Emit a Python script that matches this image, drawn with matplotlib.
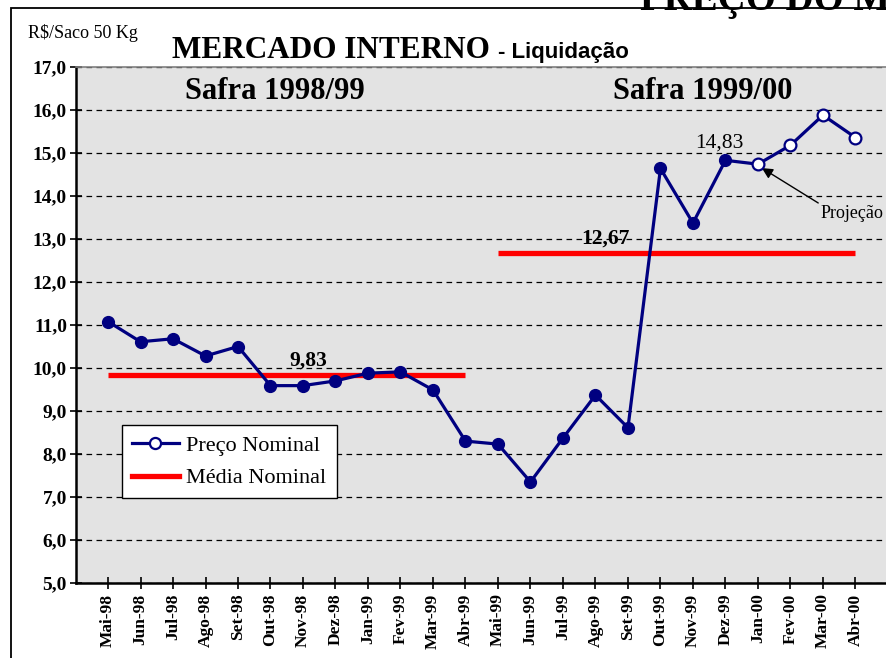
import matplotlib
matplotlib.use("Agg")
import matplotlib.pyplot as plt
from matplotlib.lines import Line2D
from matplotlib.patches import Rectangle

# Dados
meses = ["Mai-98", "Jun-98", "Jul-98", "Ago-98", "Set-98", "Out-98", "Nov-98", "Dez-98",
         "Jan-99", "Fev-99", "Mar-99", "Abr-99", "Mai-99", "Jun-99", "Jul-99", "Ago-99",
         "Set-99", "Out-99", "Nov-99", "Dez-99", "Jan-00", "Fev-00", "Mar-00", "Abr-00"]
preco = [11.08, 10.61, 10.68, 10.28, 10.50, 9.59, 9.59, 9.70, 9.88, 9.91, 9.49, 8.30,
         8.23, 7.35, 8.37, 9.37, 8.61, 14.64, 13.37, 14.83, 14.74, 15.18, 15.88, 15.36]
n_realizado = 20  # a partir de Jan-00: projeção
safras = ["Safra 1998/99", "Safra 1999/00"]
media_valor = [9.83, 12.67]
media_inicio = [0, 12]
media_fim = [11, 23]

W, H = 886, 658
serif = "Liberation Serif"
azul = "#000080"

fig = plt.figure(figsize=(W / 100, H / 100), dpi=100)
ax = fig.add_axes([76 / W, 1 - 583 / H, 1 - 76 / W, (583 - 67) / H])
ax.set_facecolor("#E3E3E3")

x = list(range(len(meses)))

# linhas de média
for v, i0, i1 in zip(media_valor, media_inicio, media_fim):
    ax.plot([x[i0], x[i1]], [v, v], color="#FF0000", lw=3.8, solid_capstyle="butt", zorder=3)

# preço nominal
ax.plot(x, preco, color=azul, lw=2.3, zorder=4)
ax.plot(x[:n_realizado], preco[:n_realizado], "o", color=azul, ms=8.5, zorder=5)
ax.plot(x[n_realizado:], preco[n_realizado:], "o", mfc="white", mec=azul, mew=1.6,
        ms=8.5, zorder=5)

ax.set_xlim(-0.985, 23.94)
ax.set_ylim(5, 17)
ax.set_yticks(range(5, 18))
ax.set_yticklabels([f"{v},0" for v in range(5, 18)], fontfamily=serif,
                   fontweight="bold", fontsize=14)
ax.set_xticks(x)
ax.set_xticklabels(meses, rotation=90, fontfamily=serif, fontweight="bold", fontsize=12.5)
ax.tick_params(axis="both", direction="inout", length=9, width=1.2, color="black")
ax.tick_params(axis="x", pad=3)
ax.tick_params(axis="y", pad=2)

ax.grid(axis="y", color="black", linestyle=(0, (4.5, 3.5)), lw=0.9)
ax.set_axisbelow(True)

for s in ["left", "bottom"]:
    ax.spines[s].set_linewidth(1.8)
    ax.spines[s].set_color("black")
ax.spines["top"].set_color("#808080")
ax.spines["top"].set_linewidth(1.2)
ax.spines["right"].set_visible(False)

# textos
ax.text(5.15, 16.44, safras[0], ha="center", va="center", fontfamily=serif,
        fontweight="bold", fontsize=22)
ax.text(18.3, 16.44, safras[1], ha="center", va="center", fontfamily=serif,
        fontweight="bold", fontsize=22)
ax.text(6.15, 10.17, "9,83", ha="center", va="center", fontfamily=serif,
        fontweight="bold", fontsize=15.5)
ax.text(15.3, 13.02, "12,67", ha="center", va="center", fontfamily=serif,
        fontweight="bold", fontsize=15.5)
ax.text(18.8, 15.23, "14,83", ha="center", va="center", fontfamily=serif, fontsize=15.5)
ax.annotate("Projeção", xy=(20.12, 14.65), xytext=(21.94, 13.6), ha="left", va="center",
            fontfamily=serif, fontsize=13,
            arrowprops=dict(arrowstyle="-|>", color="black", lw=1, mutation_scale=16,
                            shrinkA=0, shrinkB=0, relpos=(0, 1)))

fig.text(28 / W, 1 - 33 / H, "R$/Saco 50 Kg", ha="left", va="center",
         fontfamily=serif, fontsize=13)
titulo = fig.text(172 / W, 1 - 58 / H, "MERCADO INTERNO", ha="left", va="baseline",
                  fontfamily=serif, fontweight="bold", fontsize=22.5)
fig.canvas.draw()
fim_titulo = titulo.get_window_extent().x1
fig.text((fim_titulo + 8) / W, 1 - 58 / H, "- Liquidação", ha="left", va="baseline",
         fontfamily="Liberation Sans", fontweight="bold", fontsize=16)
fig.text(640 / W, 1 - 10 / H, "PREÇO DO MERCADO", ha="left", va="baseline",
         fontfamily=serif, fontweight="bold", fontsize=28)

# moldura do gráfico
fig.patches.append(Rectangle((11 / W, -0.1), 2, 1.1 - 8 / H, transform=fig.transFigure,
                             fill=False, ec="black", lw=1.3))

# legenda
handles = [
    Line2D([], [], color=azul, lw=2.3, marker="o", mfc="white", mec=azul, mew=1.6, ms=8),
    Line2D([], [], color="#FF0000", lw=3.8),
]
leg = ax.legend(handles, ["Preço Nominal", "Média Nominal"], loc="upper left",
                bbox_to_anchor=(122 / W, 1 - 425 / H), bbox_transform=fig.transFigure,
                prop={"family": serif, "size": 16}, fancybox=False, framealpha=1,
                edgecolor="black", handlelength=2.1, handletextpad=0.35,
                borderpad=0.45, labelspacing=0.55, borderaxespad=0)
leg.get_frame().set_linewidth(1)

fig.savefig("out.png", dpi=100)
